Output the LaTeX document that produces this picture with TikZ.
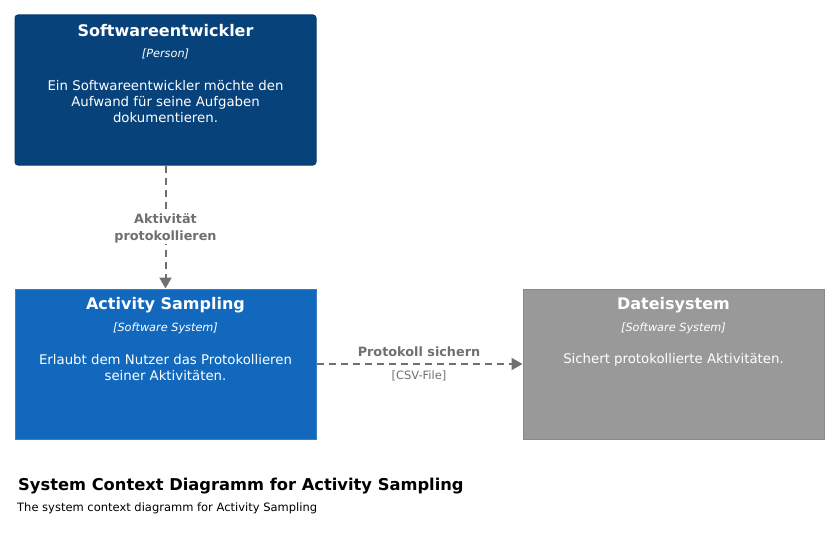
\documentclass[tikz,border=0pt]{standalone}
\usepackage{fontspec}
\setmainfont{DejaVu Sans}
\usetikzlibrary{arrows.meta}
\definecolor{persondark}{HTML}{08427B}
\definecolor{personborder}{HTML}{073B6F}
\definecolor{sysblue}{HTML}{1168BD}
\definecolor{sysborder}{HTML}{3C7FC0}
\definecolor{extgray}{HTML}{999999}
\definecolor{extborder}{HTML}{8A8A8A}
\definecolor{relgray}{HTML}{707070}
\tikzset{
  x=1pt,y=-1pt,
  elembox/.style={minimum width=301pt,minimum height=150pt,line width=1pt,inner sep=0pt},
  ttl/.style={font=\fontsize{16}{18}\selectfont\bfseries,text=white},
  typ/.style={font=\fontsize{11.3}{13}\selectfont\itshape,text=white},
  dsc/.style={font=\fontsize{13.3}{16}\selectfont,text=white,align=center},
  rel/.style={draw=relgray,line width=2pt,dash pattern=on 7pt off 5pt,-{Triangle[length=11pt,width=12pt]}},
  rellbl/.style={font=\fontsize{12.8}{17}\selectfont\bfseries,text=relgray,align=center,fill=white,inner sep=1pt},
  reltech/.style={font=\fontsize{11.5}{13}\selectfont,text=relgray}
}
\begin{document}
\begin{tikzpicture}
\useasboundingbox (0,0) rectangle (839,543);
\node[elembox,fill=persondark,draw=personborder,rounded corners=3pt] (dev) at (165.5,90) {};
\node[elembox,fill=sysblue,draw=sysborder] (as) at (165.5,364) {};
\node[elembox,fill=extgray,draw=extborder] (fs) at (673.5,364) {};
% texts dev
\node[ttl] (devt) at (165.5,31) {Softwareentwickler};
\node[typ] (devy) at (165.5,54) {[Person]};
\node[dsc] (devd) at (165.5,102) {Ein Softwareentwickler möchte den\\Aufwand für seine Aufgaben\\dokumentieren.};
% texts as
\node[ttl] (ast) at (165.5,305) {Activity Sampling};
\node[typ] (asy) at (165.5,328) {[Software System]};
\node[dsc] (asd) at (165.5,368) {Erlaubt dem Nutzer das Protokollieren\\seiner Aktivitäten.};
% texts fs
\node[ttl] (fst) at (673.5,305) {Dateisystem};
\node[typ] (fsy) at (673.5,328) {[Software System]};
\node[dsc] (fsd) at (673.5,360) {Sichert protokollierte Aktivitäten.};
% relations
\draw[rel] (dev.south) -- (as.north);
\node[rellbl] (l1) at (165.5,228) {Aktivität\\protokollieren};
\draw[rel] (as.east) -- (fs.west);
\node[rellbl,fill=none] (l2) at (419,352) {Protokoll sichern};
\node[reltech] (l2t) at (419,376) {[CSV-File]};
% legend
\node[anchor=west,inner sep=0pt,font=\fontsize{16.3}{18}\selectfont\bfseries] (tt) at (18,486) {System Context Diagramm for Activity Sampling};
\node[anchor=west,inner sep=0pt,font=\fontsize{11.5}{13}\selectfont] (st) at (17,508) {The system context diagramm for Activity Sampling};
\end{tikzpicture}
\end{document}
